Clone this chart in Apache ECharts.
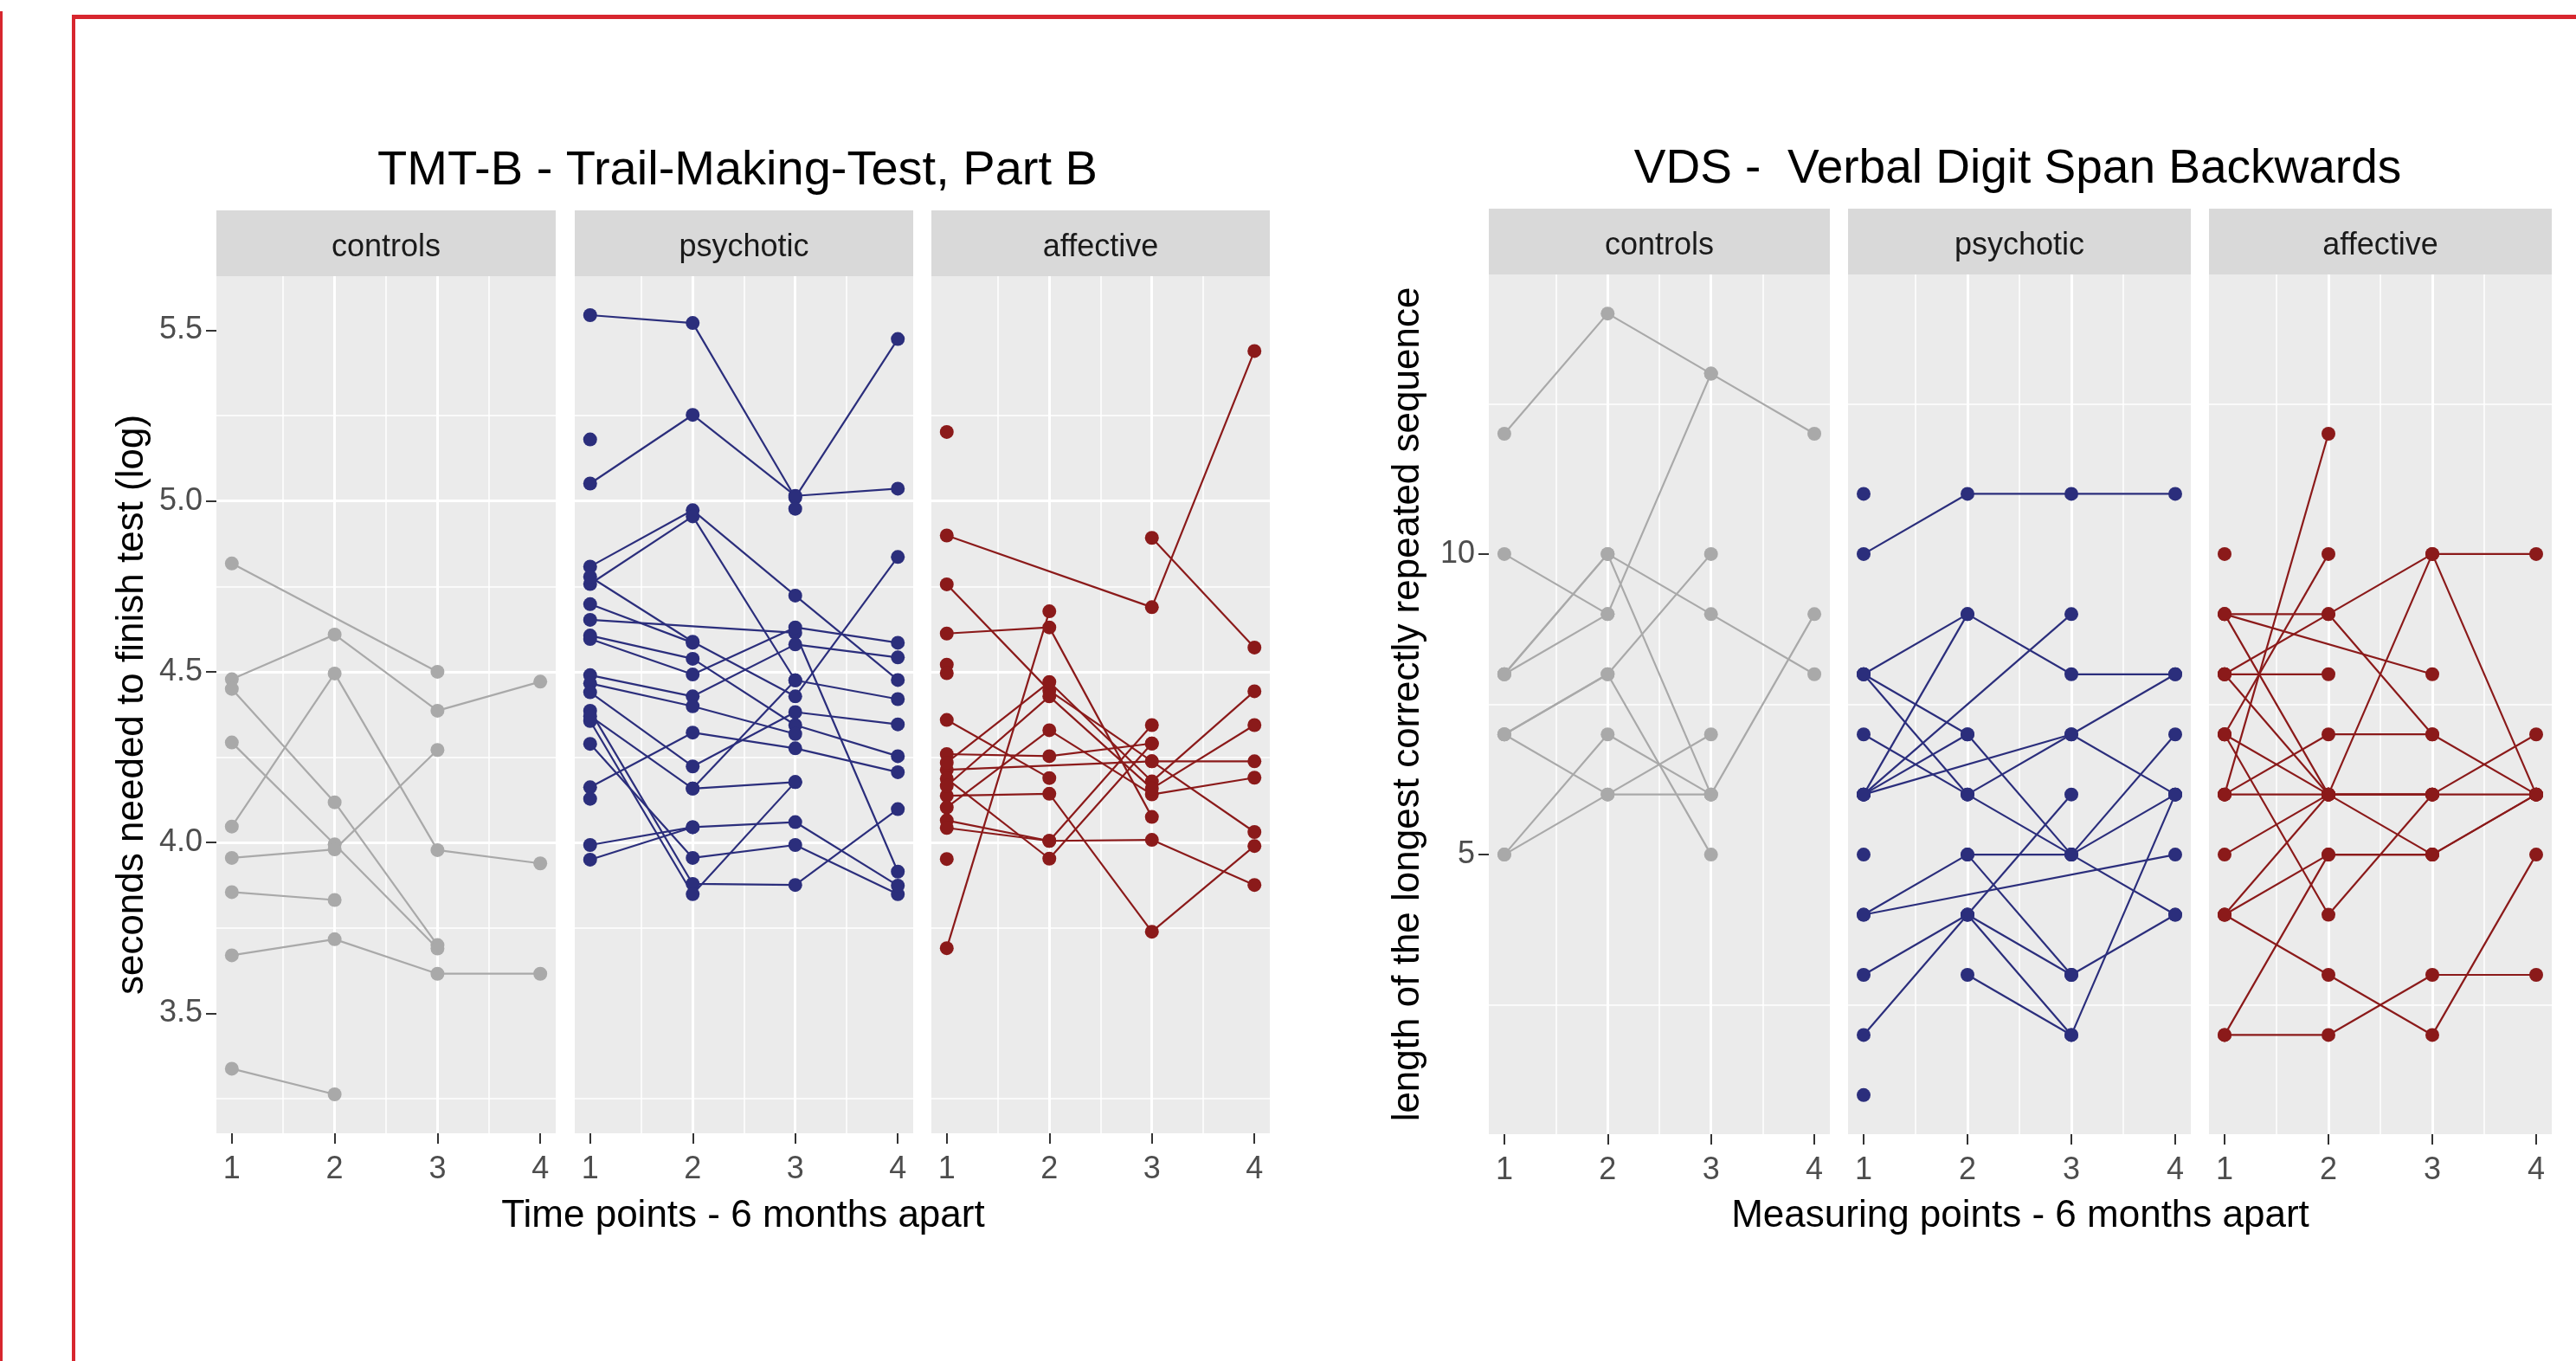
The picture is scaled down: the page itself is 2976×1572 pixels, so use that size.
<!DOCTYPE html>
<html><head><meta charset="utf-8">
<script src="https://cdn.jsdelivr.net/npm/echarts@6/dist/echarts.min.js"></script>
<style>html,body{margin:0;padding:0;background:#fff}#c{width:2976px;height:1572px}</style>
</head><body><div id="c"></div>
<script>
// ---------------- data ----------------
const timePoints = [1, 2, 3, 4];
const xTickLabels = ['1', '2', '3', '4'];
const groups = ['controls', 'psychotic', 'affective'];
const tmtYTicks = [3.5, 4.0, 4.5, 5.0, 5.5];
const vdsYTicks = [5, 10];

const tmtTitle = 'TMT-B - Trail-Making-Test, Part B';
const vdsTitle = 'VDS -  Verbal Digit Span Backwards';
const tmtXTitle = 'Time points - 6 months apart';
const vdsXTitle = 'Measuring points - 6 months apart';
const tmtYTitle = 'seconds needed to finish test (log)';
const vdsYTitle = 'length of the longest correctly repeated sequence';

// one row per subject, values at time points 1..4 (null = missing)
const tmtControls = [
  [4.817, null, 4.500, null],
  [4.478, 4.609, 4.386, 4.471],
  [4.450, 4.118, 3.700, null],
  [4.293, 3.995, 3.690, null],
  [3.955, 3.980, 4.271, null],
  [4.047, 4.495, 3.978, 3.939],
  [3.855, 3.832, null, null],
  [3.670, 3.717, 3.616, 3.616],
  [3.338, 3.263, null, null]
];
const tmtPsychotic = [
  [5.544, 5.521, 5.010, 5.474],
  [5.051, 5.252, 5.015, 5.036],
  [5.180, null, null, null],
  [null, null, 4.977, null],
  [4.808, 4.973, 4.723, 4.476],
  [4.757, 4.955, 4.475, 4.420],
  [4.778, 4.588, 4.428, 4.836],
  [4.698, 4.585, null, null],
  [4.652, null, 4.614, 3.915],
  [4.606, 4.538, 4.344, 4.253],
  [4.596, 4.492, 4.630, 4.585],
  [4.490, 4.428, 4.580, 4.542],
  [4.466, 4.399, 4.318, null],
  [4.440, 4.223, 4.382, 4.346],
  [4.386, 3.879, 3.876, 4.098],
  [4.356, 3.849, 4.177, null],
  [4.370, 4.158, 4.177, null],
  [4.289, 3.955, 3.993, 3.849],
  [4.162, 4.322, 4.276, 4.206],
  [4.128, null, null, null],
  [3.993, 4.045, 4.060, 3.874],
  [3.950, 4.045, null, null],
  [null, 4.158, 4.475, null]
];
const tmtAffective = [
  [5.202, null, null, null],
  [4.899, null, 4.689, 5.439],
  [null, null, 4.892, 4.571],
  [4.756, 4.445, 4.238, 4.031],
  [4.612, 4.630, 4.075, null],
  [3.691, 4.677, null, null],
  [4.521, null, null, null],
  [4.496, null, null, null],
  [4.359, 4.189, null, null],
  [4.213, null, 4.238, 4.238],
  [4.137, 4.143, 3.739, 3.990],
  [4.259, 4.253, 4.290, null],
  [4.187, 3.953, 4.290, null],
  [4.103, 4.329, 4.141, 4.190],
  [4.065, 4.005, 4.344, null],
  [4.234, 4.470, 4.179, 4.443],
  [4.166, 4.428, 4.158, 4.344],
  [4.043, 4.005, 4.008, 3.876],
  [3.952, null, null, null]
];
const vdsControls = [
  [12, 14, 13, 12],
  [10, 9, 13, null],
  [8, 10, 9, 8],
  [8, 10, 6, 9],
  [7, 8, 10, null],
  [7, 8, 5, null],
  [5, 7, 6, null],
  [5, 6, 7, null],
  [7, 6, 6, null],
  [8, 9, null, null]
];
const vdsPsychotic = [
  [11, null, null, null],
  [10, 11, 11, 11],
  [8, 9, 8, 8],
  [6, 9, null, null],
  [8, 7, 5, 7],
  [8, 6, 5, 6],
  [7, 6, 7, 8],
  [6, 7, null, null],
  [6, null, 9, null],
  [6, null, 7, 6],
  [4, null, null, 5],
  [3, 4, 3, 4],
  [2, 4, 2, 6],
  [null, 4, 6, null],
  [4, 5, 5, 4],
  [null, 5, 3, null],
  [1, null, null, null],
  [5, null, null, null],
  [null, 3, 2, null]
];
const vdsAffective = [
  [10, null, null, null],
  [9, 9, 10, 10],
  [9, 6, 10, 6],
  [9, null, 8, null],
  [8, 8, null, null],
  [8, 9, 7, 6],
  [8, 6, 6, 6],
  [7, 10, null, null],
  [6, 12, null, null],
  [7, 6, 5, 6],
  [7, 4, 6, 7],
  [6, 6, 6, null],
  [6, 7, 7, null],
  [5, 6, null, null],
  [4, 5, 5, null],
  [4, 3, 2, 5],
  [2, 2, 3, 3],
  [2, 5, 5, 6],
  [4, 6, 6, null]
];

// ---------------- styling / layout ----------------
const groupColors = ['#A9A9A9', '#2B2E7C', '#8B1A1A'];
const FONT = "'Liberation Sans', Arial, Helvetica, sans-serif";
const layout = {
  tmt: { panels: [[250, 392], [664, 391], [1076, 391]], top: 319, bottom: 1309, stripTop: 243,
         titleX: 852, titleY: 198, titleSize: 56, xTitleY: 1405, yTitleX: 153 },
  vds: { panels: [[1720, 394], [2135, 396], [2552, 396]], top: 317, bottom: 1310, stripTop: 241,
         titleX: 2331, titleY: 196, titleSize: 55, xTitleY: 1405, yTitleX: 1627 }
};

function expandRange(sets) {
  let mn = Infinity, mx = -Infinity;
  sets.forEach(s => s.forEach(r => r.forEach(v => { if (v != null) { mn = Math.min(mn, v); mx = Math.max(mx, v); } })));
  const r = mx - mn;
  return [mn - 0.05 * r, mx + 0.05 * r];
}
const xr = [timePoints[0] - 0.05 * (timePoints[3] - timePoints[0]), timePoints[3] + 0.05 * (timePoints[3] - timePoints[0])];

const charts = [
  { key: 'tmt', sets: [tmtControls, tmtPsychotic, tmtAffective], yTicks: tmtYTicks, ySplit: 5,
    fmt: v => v.toFixed(1), title: tmtTitle, xTitle: tmtXTitle, yTitle: tmtYTitle },
  { key: 'vds', sets: [vdsControls, vdsPsychotic, vdsAffective], yTicks: vdsYTicks, ySplit: 3,
    fmt: v => String(v), title: vdsTitle, xTitle: vdsXTitle, yTitle: vdsYTitle }
];

const grid = [], xAxis = [], yAxis = [], series = [], graphic = [];
let gi = 0;
charts.forEach(ch => {
  const L = layout[ch.key];
  const yr = expandRange(ch.sets);
  ch.sets.forEach((set, j) => {
    const [left, width] = L.panels[j];
    grid.push({ left, top: L.top, width, height: L.bottom - L.top, show: true,
                backgroundColor: '#EBEBEB', borderWidth: 0 });
    xAxis.push({
      gridIndex: gi, type: 'value', min: xr[0], max: xr[1], splitNumber: 3,
      axisLine: { show: false },
      axisTick: { show: true, length: 12, lineStyle: { color: '#333333', width: 2 }, customValues: timePoints },
      axisLabel: { show: true, customValues: timePoints, margin: 24, fontSize: 36, color: '#4D4D4D', fontFamily: FONT,
                   formatter: v => { const k = timePoints.indexOf(v); return k >= 0 ? xTickLabels[k] : ''; } },
      splitLine: { show: true, showMinLine: false, showMaxLine: false, lineStyle: { color: '#FFFFFF', width: 3 } },
      minorTick: { show: false, splitNumber: 2 },
      minorSplitLine: { show: true, lineStyle: { color: '#FFFFFF', width: 1.5 } }
    });
    const first = j === 0;
    yAxis.push({
      gridIndex: gi, type: 'value', min: yr[0], max: yr[1], splitNumber: ch.ySplit,
      axisLine: { show: false },
      axisTick: { show: first, length: 12, lineStyle: { color: '#333333', width: 2 }, customValues: ch.yTicks },
      axisLabel: { show: first, customValues: ch.yTicks, margin: 16, fontSize: 36, color: '#4D4D4D', fontFamily: FONT,
                   formatter: v => ch.yTicks.some(t => Math.abs(t - v) < 1e-9) ? ch.fmt(v) : '' },
      splitLine: { show: true, showMinLine: false, showMaxLine: false, lineStyle: { color: '#FFFFFF', width: 3 } },
      minorTick: { show: false, splitNumber: 2 },
      minorSplitLine: { show: true, lineStyle: { color: '#FFFFFF', width: 1.5 } }
    });
    set.forEach(subj => {
      series.push({
        type: 'line', xAxisIndex: gi, yAxisIndex: gi, silent: true, animation: false, z: 3,
        data: subj.map((v, i) => v == null ? null : [timePoints[i], v]).filter(Boolean),
        symbol: 'circle', symbolSize: 16, showSymbol: true, showAllSymbol: true,
        lineStyle: { color: groupColors[j], width: 2.2 },
        itemStyle: { color: groupColors[j] }
      });
    });
    // strip
    graphic.push({ type: 'rect', silent: true, z: 1,
      shape: { x: left, y: L.stripTop, width, height: L.top - L.stripTop },
      style: { fill: '#D9D9D9' } });
    graphic.push({ type: 'text', silent: true, z: 2,
      style: { text: groups[j], x: left + width / 2, y: (L.stripTop + L.top) / 2 + 5, align: 'center', verticalAlign: 'middle',
               fontSize: 36, fontFamily: FONT, fill: '#1A1A1A' } });
    gi++;
  });
  const x0 = L.panels[0][0], x1 = L.panels[2][0] + L.panels[2][1];
  graphic.push({ type: 'text', silent: true,
    style: { text: ch.title, x: L.titleX, y: L.titleY, align: 'center', verticalAlign: 'middle',
             fontSize: L.titleSize, fontFamily: FONT, fill: '#000000' } });
  graphic.push({ type: 'text', silent: true,
    style: { text: ch.xTitle, x: (x0 + x1) / 2, y: L.xTitleY, align: 'center', verticalAlign: 'middle',
             fontSize: 44, fontFamily: FONT, fill: '#000000' } });
  graphic.push({ type: 'text', silent: true, x: L.yTitleX, y: (L.top + L.bottom) / 2, rotation: Math.PI / 2,
    style: { text: ch.yTitle, x: 0, y: 0, align: 'center', verticalAlign: 'middle',
             fontSize: 44, fontFamily: FONT, fill: '#000000' } });
});

// red frame of the slide
graphic.push({ type: 'rect', silent: true, shape: { x: 0, y: 13, width: 3, height: 1572 }, style: { fill: '#D7262E' } });
graphic.push({ type: 'rect', silent: true, shape: { x: 83, y: 17, width: 4, height: 1572 }, style: { fill: '#D7262E' } });
graphic.push({ type: 'rect', silent: true, shape: { x: 83, y: 17, width: 2976, height: 5 }, style: { fill: '#D7262E' } });

const chart = echarts.init(document.getElementById('c'), null, { renderer: 'canvas' });
chart.setOption({ backgroundColor: '#FFFFFF', animation: false, grid, xAxis, yAxis, series, graphic });
</script></body></html>
